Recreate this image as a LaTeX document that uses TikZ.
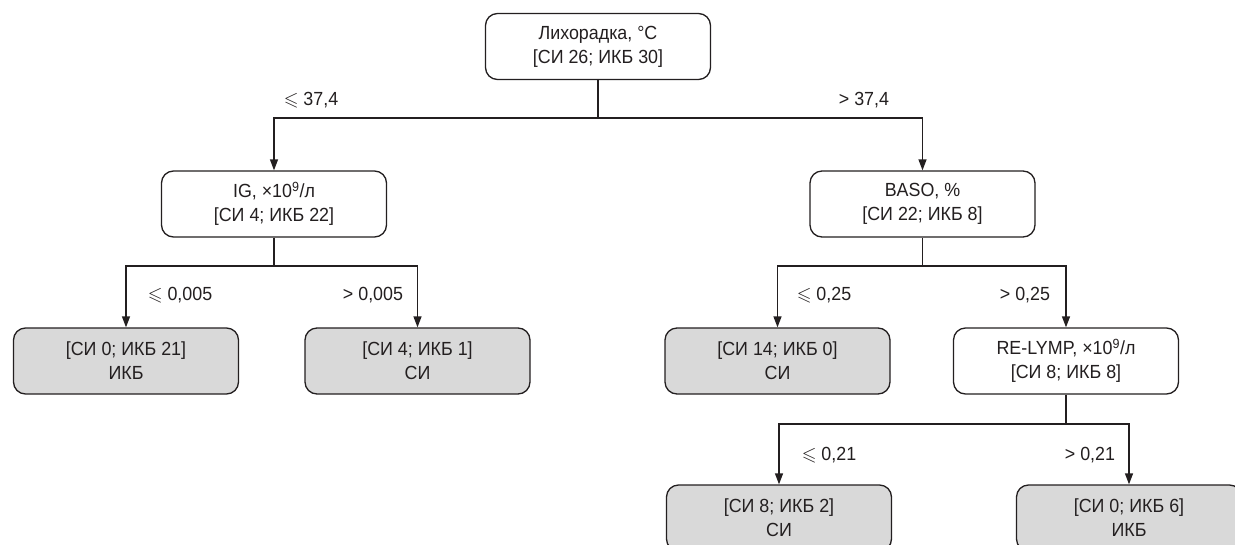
\documentclass[tikz,border=0pt]{standalone}
\usepackage{amssymb}
\usepackage{fontspec}
\setmainfont[FakeStretch=0.94]{Liberation Sans}
\usetikzlibrary{arrows.meta}
\definecolor{txt}{RGB}{35,31,32}
\definecolor{leaffill}{RGB}{217,217,217}
\begin{document}
\begin{tikzpicture}[x=1pt,y=-1pt,
  every node/.style={font=\fontsize{19}{24}\selectfont, text=txt},
  split/.style={draw=txt, line width=1.3pt, rounded corners=12pt, minimum width=225pt, minimum height=66pt, align=center, fill=white, inner sep=0pt},
  leaf/.style={split, fill=leaffill},
  conn/.style={draw=txt, line width=1.3pt},
  arr/.style={conn, -{Triangle[length=11pt,width=8pt]}},
  cond/.style={inner sep=0pt}
]
\useasboundingbox (0,0) rectangle (1235,544);
\node[split] (root) at (598,46.5) {Лихорадка, °C\\\relax [СИ 26; ИКБ 30]};
\node[split] (ig) at (274,204) {IG, ×10\textsuperscript{9}/л\\\relax [СИ 4; ИКБ 22]};
\node[split] (baso) at (922.5,204) {BASO, \%\\\relax [СИ 22; ИКБ 8]};
\node[leaf] (l1) at (126,361) {[СИ 0; ИКБ 21]\\ИКБ};
\node[leaf] (l2) at (417.5,361) {[СИ 4; ИКБ 1]\\СИ};
\node[leaf] (l3) at (777.5,361) {[СИ 14; ИКБ 0]\\СИ};
\node[split] (re) at (1066,361) {RE-LYMP, ×10\textsuperscript{9}/л\\\relax [СИ 8; ИКБ 8]};
\node[leaf] (l4) at (779,518) {[СИ 8; ИКБ 2]\\СИ};
\node[leaf] (l5) at (1129,518) {[СИ 0; ИКБ 6]\\ИКБ};

\coordinate (j0) at (root.south |- 0,118);
\coordinate (j1) at (ig.south |- 0,266);
\coordinate (j2) at (baso.south |- 0,266);
\coordinate (j3) at (re.south |- 0,424);

\draw[conn] (root.south) -- (j0);
\draw[arr] (j0) -| (ig.north);
\draw[arr] (j0) -| (baso.north);
\draw[conn] (ig.south) -- (j1);
\draw[arr] (j1) -| (l1.north);
\draw[arr] (j1) -| (l2.north);
\draw[conn] (baso.south) -- (j2);
\draw[arr] (j2) -| (l3.north);
\draw[arr] (j2) -| (re.north);
\draw[conn] (re.south) -- (j3);
\draw[arr] (j3) -| (l4.north);
\draw[arr] (j3) -| (l5.north);

\node[cond] (c1) at (311,100) {$\leqslant$ 37,4};
\node[cond] (c2) at (864,100) {> 37,4};
\node[cond] (c3) at (180,295) {$\leqslant$ 0,005};
\node[cond] (c4) at (373,295) {> 0,005};
\node[cond] (c5) at (824,295) {$\leqslant$ 0,25};
\node[cond] (c6) at (1025,295) {> 0,25};
\node[cond] (c7) at (829,455) {$\leqslant$ 0,21};
\node[cond] (c8) at (1090,455) {> 0,21};
\end{tikzpicture}
\end{document}
